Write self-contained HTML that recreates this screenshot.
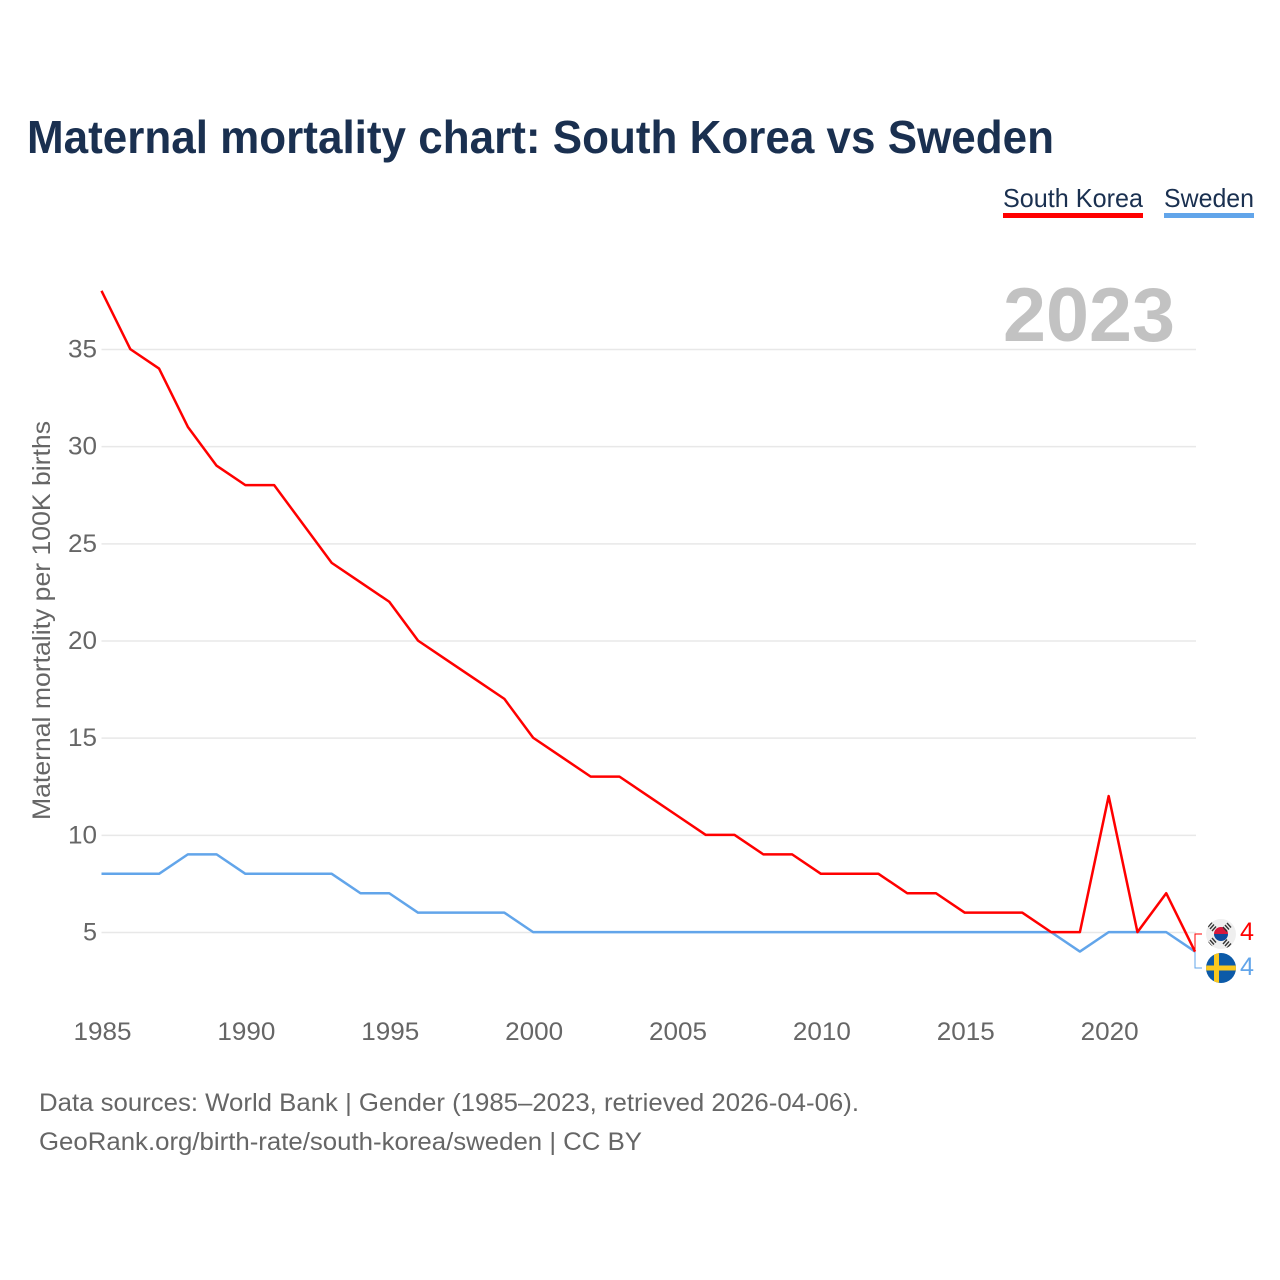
<!DOCTYPE html>
<html lang="en">
<head>
<meta charset="utf-8">
<title>Maternal mortality chart: South Korea vs Sweden</title>
<style>
html,body{margin:0;padding:0;background:#fff;width:1280px;height:1280px;overflow:hidden}
svg{display:block}
text{font-family:"Liberation Sans",sans-serif}
</style>
</head>
<body>
<svg id="chart" width="1280" height="1280" viewBox="0 0 1280 1280" xmlns="http://www.w3.org/2000/svg">
<defs>
<clipPath id="swe-clip"><circle cx="1221" cy="968" r="15"/></clipPath>
<clipPath id="kor-clip"><circle cx="1221" cy="934" r="15"/></clipPath>
</defs>
<rect width="1280" height="1280" fill="#fff"/>
<text x="27" y="153" font-size="46" font-weight="700" fill="#1a3050" textLength="1027" lengthAdjust="spacingAndGlyphs">Maternal mortality chart: South Korea vs Sweden</text>
<g>
<text x="1003" y="207" font-size="26" fill="#1a3050" textLength="140" lengthAdjust="spacingAndGlyphs">South Korea</text>
<rect x="1003" y="213" width="140" height="5" fill="#ff0000"/>
</g>
<g>
<text x="1164" y="207" font-size="26" fill="#1a3050" textLength="90" lengthAdjust="spacingAndGlyphs">Sweden</text>
<rect x="1164" y="213" width="90" height="5" fill="#62a5ea"/>
</g>
<g id="grid"></g>
<text x="1003" y="341" font-size="76" font-weight="700" fill="#c2c2c2" textLength="172" lengthAdjust="spacingAndGlyphs">2023</text>
<g id="yticks"></g>
<g id="xticks"></g>
<text transform="translate(50,820) rotate(-90)" font-size="25" fill="#666" textLength="399" lengthAdjust="spacingAndGlyphs">Maternal mortality per 100K births</text>
<g id="series" transform="translate(0,-0.4)"></g>
<g id="end-markers"></g>
<g>
<circle cx="1221" cy="934" r="15" fill="#efefef"/>
<g clip-path="url(#kor-clip)">
<path d="M1214 934a7 7 0 0 1 14 0z" fill="#d8173c"/>
<path d="M1214 934a7 7 0 0 0 14 0z" fill="#0f4a9c"/>
<g stroke="#333" stroke-width="1.4">
<path d="M1209 929l4-4.500M1211 931l4-4.500M1213 933l4-4.500" transform="translate(-1,-2)"/>
<path d="M1226 925l4 4.500M1228 923l4 4.500M1230 921l4 4.500" transform="translate(-3,2)"/>
<path d="M1209 939l4 4.500M1207 941l4 4.500M1205 943l4 4.500" transform="translate(3,-1)"/>
<path d="M1226 944l4-4.500M1228 946l4-4.500M1230 948l4-4.500" transform="translate(-3,0)"/>
</g>
</g>
</g>
<g>
<circle cx="1221" cy="968" r="15" fill="#0c5aa8"/>
<g clip-path="url(#swe-clip)" fill="#fac81e">
<rect x="1206" y="965.500" width="30" height="5"/>
<rect x="1214" y="953" width="5" height="30"/>
</g>
</g>
<text x="39" y="1111" font-size="25" fill="#666" textLength="820" lengthAdjust="spacingAndGlyphs">Data sources: World Bank | Gender (1985–2023, retrieved 2026-04-06).</text>
<text x="39" y="1150" font-size="25" fill="#666" textLength="603" lengthAdjust="spacingAndGlyphs">GeoRank.org/birth-rate/south-korea/sweden | CC BY</text>
</svg>
<script>
const years = [1985,1986,1987,1988,1989,1990,1991,1992,1993,1994,1995,1996,1997,1998,1999,2000,2001,2002,2003,2004,2005,2006,2007,2008,2009,2010,2011,2012,2013,2014,2015,2016,2017,2018,2019,2020,2021,2022,2023];
const southKorea = [38,35,34,31,29,28,28,26,24,23,22,20,19,18,17,15,14,13,13,12,11,10,10,9,9,8,8,8,7,7,6,6,6,5,5,12,5,7,4];
const sweden = [8,8,8,9,9,8,8,8,8,7,7,6,6,6,6,5,5,5,5,5,5,5,5,5,5,5,5,5,5,5,5,5,5,5,4,5,5,5,4];
const yTickValues = [5,10,15,20,25,30,35];
const xTickValues = [1985,1990,1995,2000,2005,2010,2015,2020];

const NS = 'http://www.w3.org/2000/svg';
const xScale = v => 101.5 + (v - 1985) * (1195 - 101.5) / 38;
const yScale = v => 932.5 - (v - 5) * (932.5 - 349.5) / 30;

function make(tag, parent, attrs, text) {
  const el = document.createElementNS(NS, tag);
  for (const k in attrs) el.setAttribute(k, attrs[k]);
  if (text !== undefined) el.textContent = text;
  parent.appendChild(el);
  return el;
}

const grid = document.getElementById('grid');
const yticks = document.getElementById('yticks');
yTickValues.forEach(v => {
  const line = make('line', grid, {x1: 101.5, x2: 1196, y1: yScale(v), y2: yScale(v), stroke: '#e8e8e8', 'stroke-width': 1.5});
  
  
  const label = make('text', yticks, {x: 97, y: yScale(v) + 8, 'font-size': 25, fill: '#666', 'text-anchor': 'end', textLength: v < 10 ? 14 : 29, lengthAdjust: 'spacingAndGlyphs'}, String(v));
  
  
});

const xticks = document.getElementById('xticks');
xTickValues.forEach(v => {
  const label = make('text', xticks, {x: xScale(v) - 28, y: 1040, 'font-size': 25, fill: '#666', textLength: 58, lengthAdjust: 'spacingAndGlyphs'}, String(v));
  
  
});

const seriesGroup = document.getElementById('series');
function linePoints(values) {
  return values.map((v, i) => xScale(years[i]).toFixed(2) + ',' + yScale(v).toFixed(2)).join(' ');
}
const swedenLine = make('polyline', seriesGroup, {points: linePoints(sweden), fill: 'none', stroke: '#62a5ea', 'stroke-width': 2.5, 'stroke-linejoin': 'round'});


const koreaLine = make('polyline', seriesGroup, {points: linePoints(southKorea), fill: 'none', stroke: '#ff0000', 'stroke-width': 2.5, 'stroke-linejoin': 'round'});



const markers = document.getElementById('end-markers');
const lastX = xScale(years[years.length - 1]);
const koreaEnd = southKorea[southKorea.length - 1];
const swedenEnd = sweden[sweden.length - 1];
const koreaConnector = make('polyline', markers, {points: lastX + ',' + yScale(koreaEnd) + ' ' + lastX + ',934 1202,934', fill: 'none', stroke: '#ff0000', 'stroke-width': 1});


const swedenConnector = make('polyline', markers, {points: lastX + ',' + yScale(swedenEnd) + ' ' + lastX + ',968 1202,968', fill: 'none', stroke: '#62a5ea', 'stroke-width': 1});


const koreaValue = make('text', markers, {x: 1240, y: 940, 'font-size': 25, fill: '#ff0000', textLength: 14, lengthAdjust: 'spacingAndGlyphs'}, String(koreaEnd));


const swedenValue = make('text', markers, {x: 1240, y: 975, 'font-size': 25, fill: '#62a5ea', textLength: 14, lengthAdjust: 'spacingAndGlyphs'}, String(swedenEnd));


</script>
</body>
</html>
